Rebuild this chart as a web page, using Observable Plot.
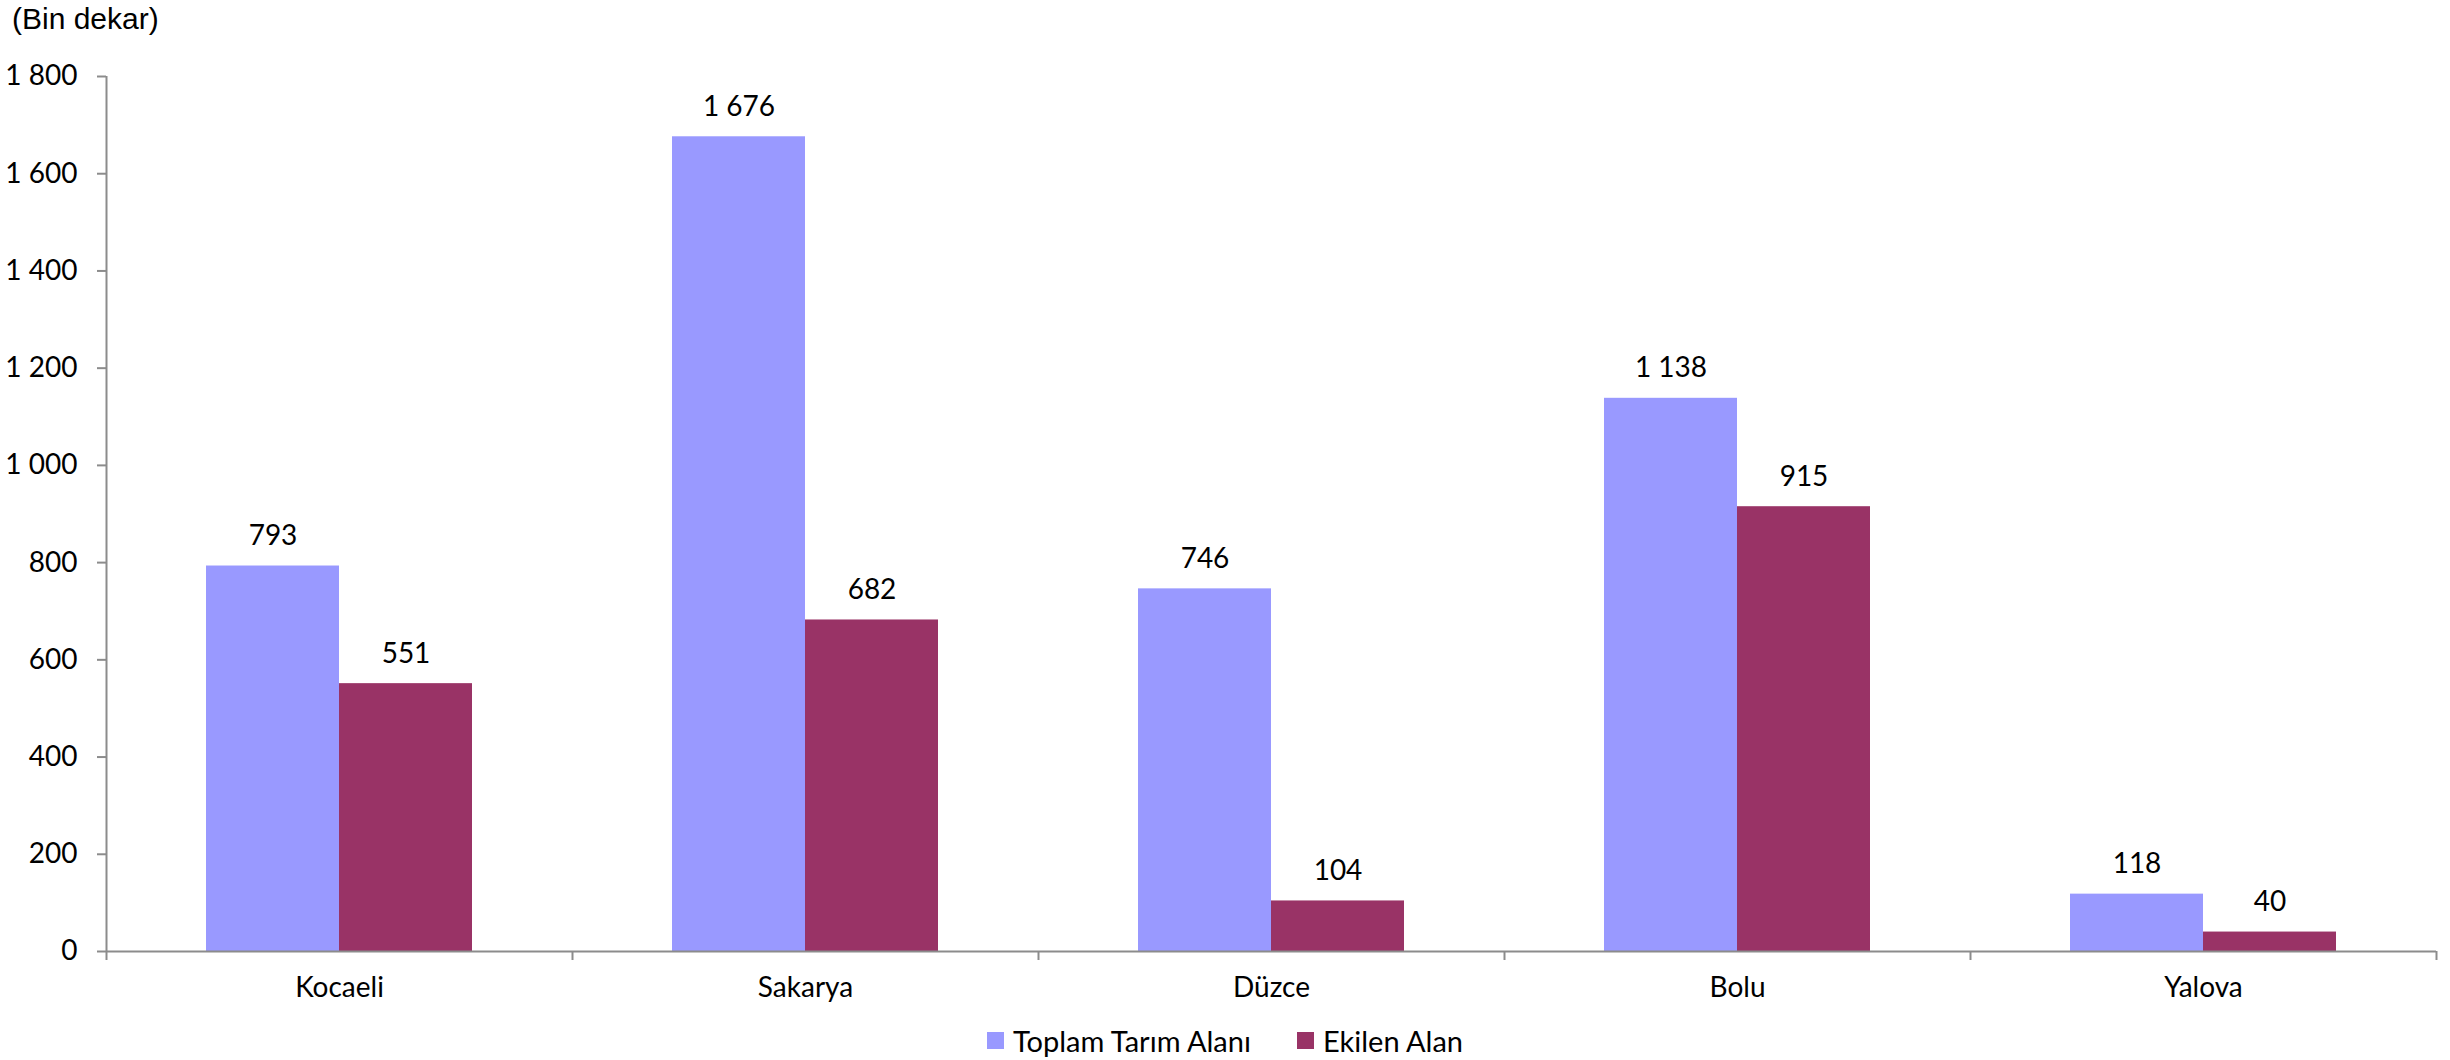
<!DOCTYPE html>
<html><head><meta charset="utf-8">
<script src="https://cdn.jsdelivr.net/npm/d3@7"></script>
<script src="https://cdn.jsdelivr.net/npm/@observablehq/plot@0.6"></script>
<style>
body{margin:0;background:#fff;width:2450px;height:1060px;position:relative;overflow:hidden;font-family:Lato, sans-serif;}
#unit{position:absolute;left:12px;top:0px;font-family:"Liberation Sans",Arial,sans-serif;font-size:30px;line-height:38px;color:#000;}
#chart{position:absolute;left:0;top:0;}
#legend{position:absolute;left:0;top:1020px;width:2450px;height:40px;display:flex;justify-content:center;align-items:center;gap:46px;font-size:29px;color:#000;}
.item{display:flex;align-items:center;gap:9px}
.sw{width:17px;height:17px;display:inline-block}
</style></head>
<body>
<div id="chart"></div>
<div id="unit">(Bin dekar)</div>
<div id="legend"></div>
<script>
const categories = ["Kocaeli", "Sakarya", "Düzce", "Bolu", "Yalova"];
const seriesNames = ["Toplam Tarım Alanı", "Ekilen Alan"];
const toplamTarimAlani = [793, 1676, 746, 1138, 118];
const ekilenAlan = [551, 682, 104, 915, 40];
const seriesColors = ["#9999FF", "#993366"];
const yTicks = [0, 200, 400, 600, 800, 1000, 1200, 1400, 1600, 1800];

const data = categories.flatMap((c, i) => [
  {category: c, series: seriesNames[0], value: toplamTarimAlani[i]},
  {category: c, series: seriesNames[1], value: ekilenAlan[i]}
]);
const fmt = v => d3.format(",")(v).replace(/,/g, " ");

const W = 2450, H = 1020, ML = 106, MR = 14, MT = 76, MB = 69;
const half = (W - ML - MR) / categories.length / 2;
const plotH = H - MT - MB;

const chart = Plot.plot({
  width: W, height: H,
  marginTop: MT, marginBottom: MB, marginLeft: ML, marginRight: MR,
  style: {fontFamily: "Lato, sans-serif", fontSize: "28px", color: "#000", background: "#fff"},
  fx: {domain: categories, padding: 0, label: null, axis: null},
  x: {domain: seriesNames, paddingInner: 0, paddingOuter: 0.75, axis: null},
  y: {domain: [0, 1800], axis: null},
  color: {domain: seriesNames, range: seriesColors},
  marks: [
    Plot.barY(data, {fx: "category", x: "series", y: "value", fill: "series"}),
    Plot.text(data, {fx: "category", x: "series", y: "value", text: d => fmt(d.value), dy: -30, fill: "#000"}),
    Plot.ruleY([0], {stroke: "#8c8c8c", strokeWidth: 2}),
    Plot.axisY({ticks: yTicks, tickFormat: fmt, tickSize: 9, tickPadding: 20, stroke: "#8c8c8c", strokeWidth: 2, label: null}),
    Plot.axisFx({anchor: "bottom", tickSize: 0, tickPadding: 26, label: null}),
    Plot.axisFx({anchor: "bottom", tickSize: 9, tickFormat: () => "", dx: half, stroke: "#8c8c8c", strokeWidth: 2, label: null}),
    Plot.axisFx([categories[0]], {anchor: "bottom", facetAnchor: "left", tickSize: 9, tickFormat: () => "", dx: -half, stroke: "#8c8c8c", strokeWidth: 2, label: null}),
    Plot.axisFx([categories[0]], {anchor: "bottom", facetAnchor: "left", tickSize: -plotH, tickFormat: () => "", dx: -half, stroke: "#8c8c8c", strokeWidth: 2, label: null})
  ]
});
document.getElementById("chart").appendChild(chart);

const legend = document.getElementById("legend");
seriesNames.forEach((s, i) => {
  const it = document.createElement("div");
  it.className = "item";
  it.innerHTML = `<span class="sw" style="background:${seriesColors[i]}"></span><span>${s}</span>`;
  legend.appendChild(it);
});
</script>
</body></html>
